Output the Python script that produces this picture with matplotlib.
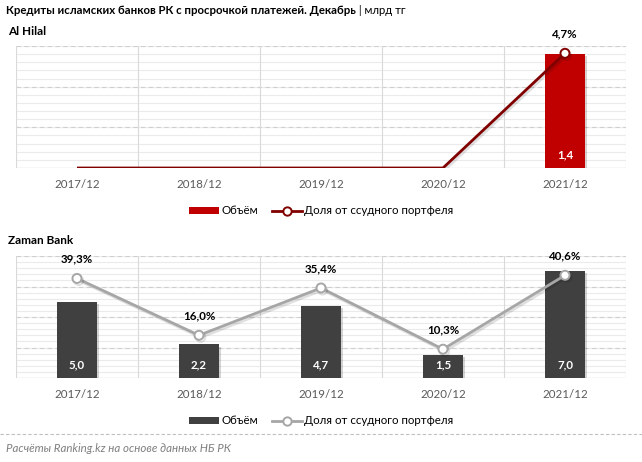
import numpy as np
import matplotlib.pyplot as plt
import matplotlib.patheffects as pe
from matplotlib.lines import Line2D
from matplotlib.patches import Patch

plt.rcParams["font.family"] = ["Lato", "DejaVu Sans"]

# Data
periods = ["2017/12", "2018/12", "2019/12", "2020/12", "2021/12"]

alhilal_volume = [0, 0, 0, 0, 1.4]          # млрд тг
alhilal_share = [0, 0, 0, 0, 4.7]           # %
zaman_volume = [5.0, 2.2, 4.7, 1.5, 7.0]
zaman_share = [39.3, 16.0, 35.4, 10.3, 40.6]

TITLE_BOLD = "Кредиты исламских банков РК с просрочкой платежей. Декабрь"
TITLE_UNIT = " | млрд тг"
SOURCE = "Расчёты Ranking.kz на основе данных НБ РК"

TICK_COLOR = "#595959"
MAJOR_GRID = "#CFCFCF"
MINOR_GRID = "#EBEBEB"
FRAME_COLOR = "#D9D9D9"
FS = 8.3


def fmt(v, pct=False):
    s = f"{v:.1f}".replace(".", ",")
    return s + "%" if pct else s


def draw_panel(fig, rect, name, volume, share, bar_color, line_color,
               ylim, n_major, share_lim, marker_idx):
    ax = fig.add_axes(rect)
    x = np.arange(len(periods))
    ax.set_xlim(-0.5, len(periods) - 0.5)
    ax.set_ylim(*ylim)

    # horizontal grid: dashed majors, light minors
    for y in np.linspace(ylim[0], ylim[1], n_major * 5 + 1)[1:]:
        ax.axhline(y, color=MINOR_GRID, lw=0.8, zorder=0)
    for y in np.linspace(ylim[0], ylim[1], n_major + 1)[1:]:
        ax.axhline(y, color=MAJOR_GRID, lw=0.8, ls=(0, (4, 3)), zorder=0)
    # category separators
    for xb in np.arange(len(periods) + 1) - 0.5:
        ax.axvline(xb, color=FRAME_COLOR, lw=0.8, zorder=0)

    for s in ax.spines.values():
        s.set_visible(False)
    ax.axhline(ylim[0], color=FRAME_COLOR, lw=1.0, zorder=1)

    shown = [i for i, v in enumerate(volume) if v > 0]
    bars = ax.bar(x[shown], [volume[i] for i in shown], width=0.32,
                  color=bar_color, zorder=2)
    for b in bars:
        b.set_path_effects([pe.SimplePatchShadow(offset=(1.5, -1.5), alpha=0.18),
                            pe.Normal()])
    for i in shown:
        ax.annotate(fmt(volume[i]), (x[i], ylim[0]), xytext=(0, 9.5),
                    textcoords="offset points", ha="center", va="center",
                    color="white", fontsize=FS, fontweight="bold", zorder=5)

    ax.set_xticks(x)
    ax.set_xticklabels(periods, color=TICK_COLOR, fontsize=FS)
    ax.tick_params(axis="x", length=0, pad=8)
    ax.set_yticks([])

    ax2 = ax.twinx()
    ax2.set_ylim(*share_lim)
    ax2.set_yticks([])
    for s in ax2.spines.values():
        s.set_visible(False)
    ax2.plot(x, share, color=line_color, lw=2.0, marker="o", markersize=6.5,
             markerfacecolor="white", markeredgecolor=line_color,
             markeredgewidth=1.4, markevery=marker_idx, zorder=3,
             solid_capstyle="butt",
             path_effects=[pe.SimpleLineShadow(offset=(1.2, -1.5), alpha=0.12),
                           pe.Normal()])
    for i in marker_idx:
        ax2.annotate(fmt(share[i], pct=True), (x[i], share[i]), xytext=(0, 14),
                     textcoords="offset points", ha="center", va="center",
                     color="black", fontsize=FS, fontweight="bold")

    fig.text(8 / 642, rect[1] + rect[3] + 15 / 462, name, fontsize=8.5,
             fontweight="bold", va="center", ha="left")

    handles = [Patch(facecolor=bar_color, edgecolor="none"),
               Line2D([], [], color=line_color, lw=2.0, marker="o", markersize=6,
                      markerfacecolor="white", markeredgecolor=line_color,
                      markeredgewidth=1.4)]
    fig.legend(handles, ["Объём", "Доля от ссудного портфеля"], ncol=2,
               loc="center", bbox_to_anchor=(0.5, rect[1] - 43 / 462),
               frameon=False, fontsize=FS, handlelength=2.6, handleheight=0.55,
               handletextpad=0.2, columnspacing=1.2)
    return ax


fig = plt.figure(figsize=(6.42, 4.62), dpi=100)

draw_panel(fig, [16 / 642, 294 / 462, 610 / 642, 122 / 462], "Al Hilal",
           alhilal_volume, alhilal_share, "#C00000", "#800000",
           (0, 1.5), 3, (0, 5), [4])
draw_panel(fig, [16 / 642, 84 / 462, 610 / 642, 122 / 462], "Zaman Bank",
           zaman_volume, zaman_share, "#404040", "#A6A6A6",
           (0, 8), 4, (-1.5, 48.5), list(range(len(periods))))

# title: bold part + normal unit part
t = fig.text(6 / 642, 1 - 11 / 462, TITLE_BOLD, fontsize=8.2, fontweight="bold",
             va="center", ha="left")
fig.canvas.draw()
bb = t.get_window_extent().transformed(fig.transFigure.inverted())
fig.text(bb.x1, 1 - 11 / 462, TITLE_UNIT, fontsize=8.2, va="center", ha="left")

# separator and source
fig.add_artist(Line2D([0, 1], [1 - 434 / 462] * 2, color="#BFBFBF", lw=0.8,
                      ls=(0, (3, 2)), transform=fig.transFigure))
fig.text(6 / 642, 1 - 449 / 462, SOURCE, fontsize=FS, style="italic",
         color="#7F7F7F", va="center", ha="left")

fig.savefig("out.png", dpi=100)
